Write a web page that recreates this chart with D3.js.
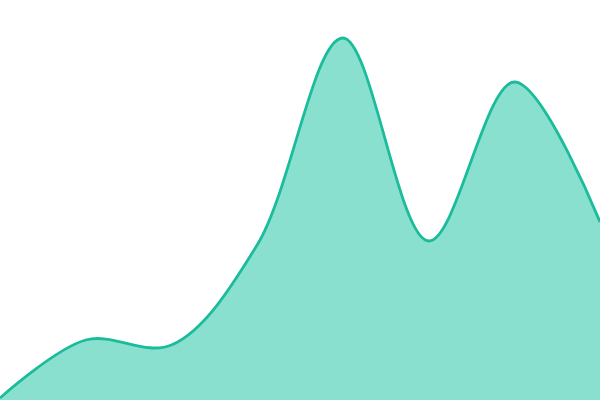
<!DOCTYPE html>
<html>
<head>
<meta charset="utf-8">
<script src="https://cdn.jsdelivr.net/npm/d3@7"></script>
<style>
  html, body { margin: 0; padding: 0; background: #fff; }
  svg { display: block; }
</style>
</head>
<body>
<svg id="chart" width="600" height="400"></svg>
<script>
// data
const steps = [0, 1, 2, 3, 4, 5, 6, 7];
const values = [2, 60, 55, 155, 362, 159, 318, 178];

const svg = d3.select("#chart"),
  width = +svg.attr("width"),
  height = +svg.attr("height");

const x = d3.scaleLinear().domain([0, steps.length - 1]).range([0, width]);
const y = d3.scaleLinear().domain([0, 400]).range([height, 0]);

const points = steps.map((s, i) => ({ step: s, value: values[i] }));

const area = d3.area()
  .x(d => x(d.step))
  .y0(height)
  .y1(d => y(d.value))
  .curve(d3.curveCatmullRom);

const line = d3.line()
  .x(d => x(d.step))
  .y(d => y(d.value))
  .curve(d3.curveCatmullRom);

svg.append("path")
  .datum(points)
  .attr("fill", "#8ae0cf")
  .attr("d", area);

svg.append("path")
  .datum(points)
  .attr("fill", "none")
  .attr("stroke", "#1abc9c")
  .attr("stroke-width", 2.8)
  .attr("d", line);
</script>
</body>
</html>
